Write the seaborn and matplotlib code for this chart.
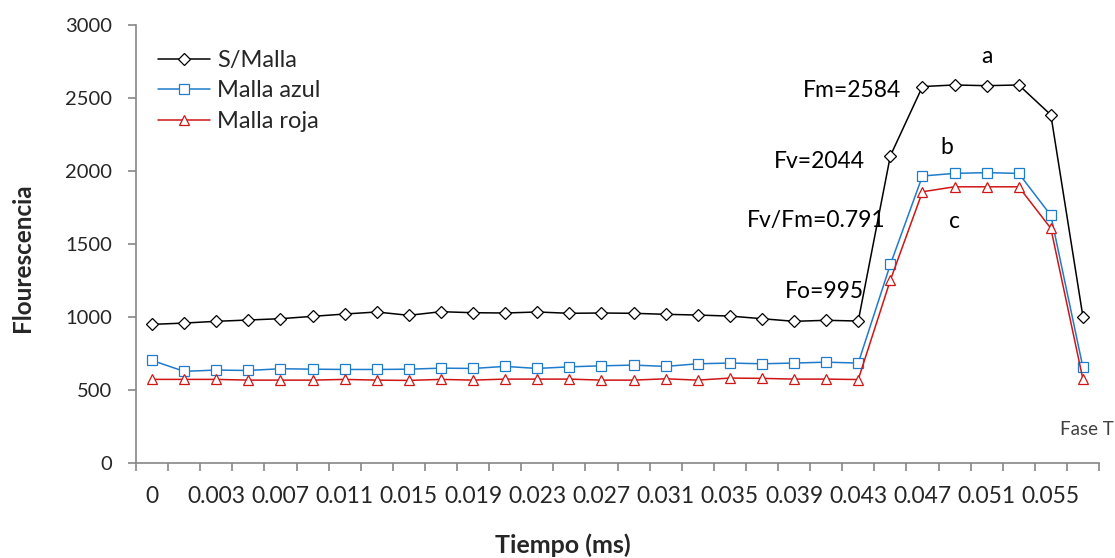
import matplotlib
matplotlib.use("Agg")
import matplotlib.pyplot as plt
import seaborn as sns
import pandas as pd
import numpy as np

# ---- data ----
tiempo = ["0", "0.001", "0.003", "0.005", "0.007", "0.009", "0.011", "0.013", "0.015", "0.017",
          "0.019", "0.021", "0.023", "0.025", "0.027", "0.029", "0.031", "0.033", "0.035", "0.037",
          "0.039", "0.041", "0.043", "0.045", "0.047", "0.049", "0.051", "0.053", "0.055", "0.057"]
s_malla = [948, 957, 969, 978, 987, 1003, 1019, 1033, 1010, 1035, 1028, 1026, 1033, 1024, 1026,
           1024, 1017, 1012, 1005, 987, 969, 976, 971, 2103, 2578, 2589, 2584, 2589, 2384, 1000]
malla_azul = [701, 626, 635, 632, 644, 641, 639, 639, 641, 648, 646, 660, 646, 657, 664,
              669, 660, 678, 683, 678, 683, 689, 683, 1359, 1965, 1983, 1988, 1983, 1695, 653]
malla_roja = [571, 571, 571, 566, 566, 566, 571, 566, 564, 571, 566, 573, 573, 573, 566,
              566, 575, 566, 580, 578, 573, 573, 570, 1251, 1857, 1891, 1891, 1891, 1606, 571]
series = ["S/Malla", "Malla azul", "Malla roja"]
colors = ["#000000", "#1F7BCB", "#D01515"]
markers = ["D", "s", "^"]
y_ticks = [0, 500, 1000, 1500, 2000, 2500, 3000]

df = pd.concat([
    pd.DataFrame({"Tiempo": tiempo, "F": vals, "Serie": name})
    for name, vals in zip(series, [s_malla, malla_azul, malla_roja])
], ignore_index=True)

sns.set_style("white")
plt.rcParams["font.family"] = ["Lato", "DejaVu Sans"]

fig = plt.figure(figsize=(11.15, 5.58), dpi=100)
ax = fig.add_axes([136 / 1115, 1 - 462.7 / 558, 963 / 1115, 437.7 / 558])

sns.lineplot(data=df, x="Tiempo", y="F", hue="Serie", style="Serie",
             palette=dict(zip(series, colors)), markers=dict(zip(series, markers)),
             dashes=False, sort=False, legend=False, ax=ax, linewidth=1.1)

sizes = {"D": 6, "s": 7, "^": 7.5}
for line, c, m in zip(ax.lines, colors, markers):
    line.set_color(c)
    line.set_markerfacecolor("white")
    line.set_markeredgecolor(c)
    line.set_markeredgewidth(0.9)
    line.set_markersize(sizes[m])

leg = ax.legend(ax.lines[:3], series, loc="upper left",
                bbox_to_anchor=(158 / 1115, 1 - 50 / 558), bbox_transform=fig.transFigure,
                frameon=False, fontsize=17, borderpad=0, borderaxespad=0,
                handlelength=2.2, handletextpad=0.3, labelspacing=0.4)

n = len(tiempo)
ax.set_xlim(-0.5, n - 0.5)
ax.set_ylim(0, 3000)
ax.set_yticks(y_ticks)
ax.set_xticks(np.arange(0, n, 2))
ax.set_xticklabels(tiempo[0::2])
ax.set_xticks(np.arange(-0.5, n, 1), minor=True)

gray = "#868686"
for s in ["top", "right"]:
    ax.spines[s].set_visible(False)
for s in ["left", "bottom"]:
    ax.spines[s].set_color(gray)
    ax.spines[s].set_linewidth(1.2)
ax.tick_params(axis="y", which="major", direction="out", length=6, width=1.2, color=gray,
               labelsize=14.5, pad=11, left=True)
ax.tick_params(axis="x", which="major", length=0, labelsize=16.5, pad=17)
ax.tick_params(axis="x", which="minor", direction="out", length=6, width=1.2, color=gray,
               bottom=True)

ax.set_xlabel("Tiempo (ms)", fontsize=18, fontweight="bold")
ax.set_ylabel("Flourescencia", fontsize=17.5, fontweight="bold")
ax.xaxis.set_label_coords((563 - 136) / 963, (462.7 - 545) / 437.7)
ax.xaxis.label.set_verticalalignment("center")
ax.yaxis.set_label_coords((23 - 136) / 963, (462.7 - 258) / 437.7)
ax.yaxis.label.set_verticalalignment("center")

ann = [("a", 26.0, 2737), ("Fm=2584", 21.82, 2509), ("b", 24.75, 2116),
       ("Fv=2044", 20.78, 2018), ("Fv/Fm=0.791", 20.70, 1613), ("c", 24.99, 1607),
       ("Fo=995", 20.96, 1127)]
for txt, x, y in ann:
    ax.text(x, y, txt, fontsize=16.5, ha="center", va="baseline", color="black")
ax.text(28.29, 190, "Fase T", fontsize=13.5, ha="left", va="baseline", color="#404040",
        clip_on=False)

fig.savefig("out.png", dpi=100)
